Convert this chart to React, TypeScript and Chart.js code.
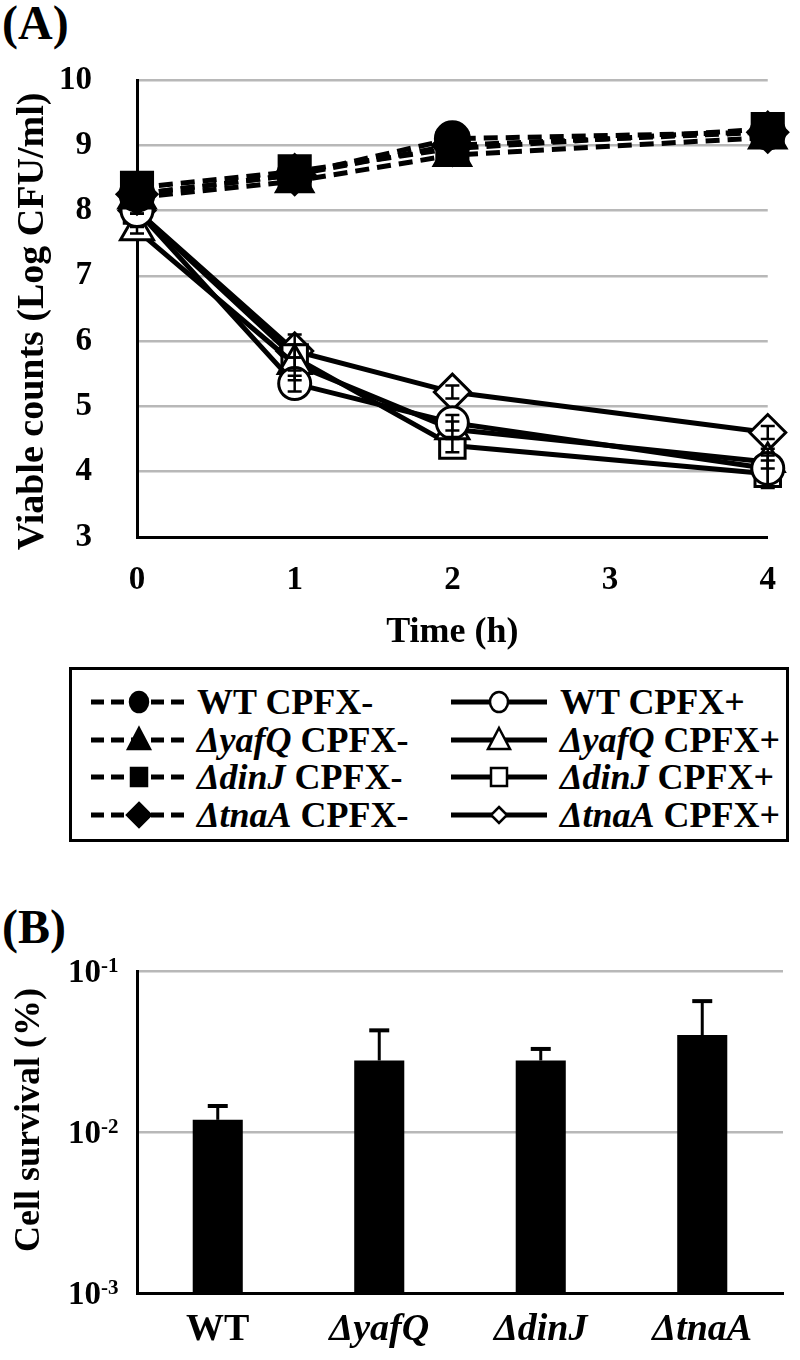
import React, { useEffect, useRef } from 'react';
import { Chart, registerables } from 'chart.js';

Chart.register(...registerables);

const FONT = '"Liberation Serif", "Times New Roman", serif';

// ---------- Panel A data ----------
const timePoints = [0, 1, 2, 4];
const xTicksA = [0, 1, 2, 3, 4];
const strains = ['WT', 'ΔyafQ', 'ΔdinJ', 'ΔtnaA'];
const markerStyles = ['circle', 'triangle', 'rect', 'rectRot'];
const yTitleA = 'Viable counts (Log CFU/ml)';
const xTitleA = 'Time (h)';
const yTitleB = 'Cell survival (%)';

const wtMinus = [8.25, 8.55, 9.1, 9.2];
const yafQMinus = [8.2, 8.45, 8.85, 9.12];
const dinJMinus = [8.35, 8.6, 8.95, 9.25];
const tnaAMinus = [8.25, 8.55, 9.0, 9.2];

const wtPlus = [8.0, 5.35, 4.75, 4.05];
const yafQPlus = [7.7, 5.65, 4.65, 4.15];
const dinJPlus = [8.0, 5.75, 4.4, 3.97];
const tnaAPlus = [8.0, 5.85, 5.22, 4.6];

const wtMinusSD = [0.05, 0.05, 0.05, 0.05];
const yafQMinusSD = [0.05, 0.05, 0.05, 0.05];
const dinJMinusSD = [0.05, 0.05, 0.05, 0.05];
const tnaAMinusSD = [0.05, 0.05, 0.05, 0.05];
const wtPlusSD = [0.05, 0.12, 0.12, 0.3];
const yafQPlusSD = [0.05, 0.1, 0.12, 0.1];
const dinJPlusSD = [0.05, 0.35, 0.1, 0.2];
const tnaAPlusSD = [0.05, 0.1, 0.1, 0.1];

const seriesA = [
  { strain: 0, plus: false, values: wtMinus, sd: wtMinusSD },
  { strain: 1, plus: false, values: yafQMinus, sd: yafQMinusSD },
  { strain: 2, plus: false, values: dinJMinus, sd: dinJMinusSD },
  { strain: 3, plus: false, values: tnaAMinus, sd: tnaAMinusSD },
  { strain: 0, plus: true, values: wtPlus, sd: wtPlusSD },
  { strain: 1, plus: true, values: yafQPlus, sd: yafQPlusSD },
  { strain: 2, plus: true, values: dinJPlus, sd: dinJPlusSD },
  { strain: 3, plus: true, values: tnaAPlus, sd: tnaAPlusSD },
];

// ---------- Panel B data ----------
const survivalMean = [0.0119, 0.0278, 0.0278, 0.04];
const survivalErr = [0.0026, 0.015, 0.005, 0.025];
const survivalTicks = [0.001, 0.01, 0.1];
const survivalTickExp = ['-3', '-2', '-1'];

const radiiFilled: Record<string, number> = { circle: 17, triangle: 21, rect: 22, rectRot: 20 };
const radiiOpen: Record<string, number> = { circle: 16, triangle: 19, rect: 18, rectRot: 18 };

function labelOf(i: number, plus: boolean) {
  return `${strains[i]} CPFX${plus ? '+' : '-'}`;
}

function drawVerticalTitle(ctx: any, text: string, cx: number, cy: number, size: number) {
  ctx.save();
  ctx.translate(cx, cy);
  ctx.rotate(-Math.PI / 2);
  ctx.font = `bold ${size}px ${FONT}`;
  ctx.fillStyle = '#000';
  ctx.textAlign = 'center';
  ctx.textBaseline = 'middle';
  ctx.fillText(text, 0, 0);
  ctx.restore();
}

const errorBarsA = {
  id: 'errorBarsA',
  afterDatasetsDraw(chart: any) {
    const ctx = chart.ctx;
    const xs = chart.scales.x;
    const ys = chart.scales.y;
    ctx.save();
    ctx.strokeStyle = '#000';
    ctx.lineWidth = 2.5;
    seriesA.forEach((s) => {
      s.sd.forEach((sd, j) => {
        if (!sd) return;
        const x = xs.getPixelForValue(timePoints[j]);
        const y1 = ys.getPixelForValue(s.values[j] - sd);
        const y2 = ys.getPixelForValue(s.values[j] + sd);
        ctx.beginPath();
        ctx.moveTo(x, y1);
        ctx.lineTo(x, y2);
        ctx.moveTo(x - 7, y1);
        ctx.lineTo(x + 7, y1);
        ctx.moveTo(x - 7, y2);
        ctx.lineTo(x + 7, y2);
        ctx.stroke();
      });
    });
    ctx.restore();
  },
  afterDraw(chart: any) {
    const ys = chart.scales.y;
    drawVerticalTitle(chart.ctx, yTitleA, 33, (ys.top + ys.bottom) / 2 + 13, 38);
  },
};

const errorBarsB = {
  id: 'errorBarsB',
  afterDatasetsDraw(chart: any) {
    const ctx = chart.ctx;
    const meta = chart.getDatasetMeta(0);
    const ys = chart.scales.y;
    ctx.save();
    ctx.strokeStyle = '#000';
    meta.data.forEach((bar: any, i: number) => {
      const x = bar.x;
      const yTop = ys.getPixelForValue(survivalMean[i]);
      const yErr = ys.getPixelForValue(survivalMean[i] + survivalErr[i]);
      ctx.lineWidth = 3;
      ctx.beginPath();
      ctx.moveTo(x, yTop);
      ctx.lineTo(x, yErr);
      ctx.stroke();
      ctx.lineWidth = 4;
      ctx.beginPath();
      ctx.moveTo(x - 10, yErr);
      ctx.lineTo(x + 10, yErr);
      ctx.stroke();
    });
    ctx.restore();
  },
  afterDraw(chart: any) {
    const ctx = chart.ctx;
    const ys = chart.scales.y;
    ctx.save();
    ctx.fillStyle = '#000';
    survivalTicks.forEach((v, i) => {
      const y = ys.getPixelForValue(v);
      ctx.font = `bold 33px ${FONT}`;
      ctx.textAlign = 'right';
      ctx.textBaseline = 'alphabetic';
      ctx.fillText('10', 101, y + 11);
      ctx.font = `bold 21px ${FONT}`;
      ctx.textAlign = 'left';
      ctx.fillText(survivalTickExp[i], 101, y + 1);
    });
    ctx.restore();
    drawVerticalTitle(ctx, yTitleB, 30, (ys.top + ys.bottom) / 2 - 12, 36);
  },
};

function LegendMarker({ style, filled, small }: { style: string; filled: boolean; small?: boolean }) {
  const cx = 48;
  const cy = 15;
  const fill = filled ? '#000' : '#fff';
  const sw = 2.5;
  if (style === 'circle') return <ellipse cx={cx} cy={cy} rx={9} ry={10} fill={fill} stroke="#000" strokeWidth={sw} />;
  if (style === 'triangle')
    return <polygon points={`${cx},${cy - 12} ${cx + 11},${cy + 9} ${cx - 11},${cy + 9}`} fill={fill} stroke="#000" strokeWidth={sw} />;
  if (style === 'rect') return <rect x={cx - 8} y={cy - 9} width={16} height={18} fill={fill} stroke="#000" strokeWidth={sw} />;
  const r = small ? 8 : 12;
  return <polygon points={`${cx},${cy - r} ${cx + r},${cy} ${cx},${cy + r} ${cx - r},${cy}`} fill={fill} stroke="#000" strokeWidth={sw} />;
}

function LegendSymbol({ style, plus }: { style: string; plus: boolean }) {
  return (
    <svg width={96} height={30} style={{ display: 'block' }}>
      <line x1={0} y1={15} x2={96} y2={15} stroke="#000" strokeWidth={5} strokeDasharray={plus ? undefined : '13 7'} />
      <LegendMarker style={style} filled={!plus} small={plus} />
    </svg>
  );
}

function LegendText({ i, plus }: { i: number; plus: boolean }) {
  const name = strains[i];
  return (
    <span style={{ font: `bold 36px ${FONT}`, whiteSpace: 'nowrap', lineHeight: '38px' }}>
      {i === 0 ? name : <i>{name}</i>} CPFX{plus ? '+' : '-'}
    </span>
  );
}

export default function App() {
  const refA = useRef<HTMLCanvasElement>(null);
  const refB = useRef<HTMLCanvasElement>(null);

  useEffect(() => {
    const tickFont = { family: FONT, size: 33, weight: 'bold' as const };
    const titleFont = { family: FONT, size: 36, weight: 'bold' as const };

    const chartA = new Chart(refA.current!, {
      type: 'line',
      data: {
        datasets: seriesA.map((s) => {
          const ps = markerStyles[s.strain];
          return {
            label: labelOf(s.strain, s.plus),
            data: s.values.map((v, j) => ({ x: timePoints[j], y: v })),
            borderColor: '#000',
            borderWidth: 5,
            borderDash: s.plus ? [] : [14, 8],
            pointStyle: ps as any,
            pointRadius: s.plus ? radiiOpen[ps] : radiiFilled[ps],
            pointBackgroundColor: s.plus ? '#fff' : '#000',
            pointBorderColor: '#000',
            pointBorderWidth: 3,
            tension: 0,
            clip: false as any,
          };
        }),
      },
      options: {
        animation: false,
        responsive: false,
        layout: { padding: { top: 80, right: 32, left: 0, bottom: 0 } },
        plugins: { legend: { display: false }, tooltip: { enabled: false } },
        scales: {
          x: {
            type: 'linear',
            min: 0,
            max: 4,
            afterBuildTicks: (scale: any) => {
              scale.ticks = xTicksA.map((v) => ({ value: v }));
            },
            afterFit: (scale: any) => {
              scale.height = 123;
            },
            grid: { display: false, drawTicks: false },
            border: { display: true, color: '#000', width: 3 },
            ticks: { color: '#000', font: tickFont, padding: 24, maxRotation: 0 },
            title: { display: true, text: xTitleA, color: '#000', font: titleFont, padding: { top: 0, bottom: 6 } },
          },
          y: {
            min: 3,
            max: 10,
            ticks: { stepSize: 1, color: '#000', font: tickFont, padding: 45 },
            afterFit: (scale: any) => {
              scale.width = 137;
            },
            grid: {
              color: (c: any) => (c.tick && c.tick.value === 3 ? 'rgba(0,0,0,0)' : '#b8b8b8'),
              lineWidth: 2.5,
              drawTicks: false,
            },
            border: { display: true, color: '#000', width: 3 },
            title: { display: false },
          },
        },
      },
      plugins: [errorBarsA],
    });

    const chartB = new Chart(refB.current!, {
      type: 'bar',
      data: {
        labels: strains,
        datasets: [
          {
            label: 'Cell survival',
            data: survivalMean,
            backgroundColor: '#000',
            borderWidth: 0,
            barPercentage: 0.31,
            categoryPercentage: 1.0,
          },
        ],
      },
      options: {
        animation: false,
        responsive: false,
        layout: { padding: { top: 91, right: 17, left: 0, bottom: 0 } },
        plugins: { legend: { display: false }, tooltip: { enabled: false } },
        scales: {
          x: {
            type: 'category',
            afterFit: (scale: any) => {
              scale.height = 67;
            },
            grid: { display: false, drawTicks: false },
            border: { display: true, color: '#000', width: 3 },
            ticks: {
              color: '#000',
              padding: 14,
              maxRotation: 0,
              font: (c: any) => ({
                family: FONT,
                size: 38,
                weight: 'bold',
                style: c.index === 0 ? 'normal' : 'italic',
              }),
            } as any,
          },
          y: {
            type: 'logarithmic',
            min: 0.001,
            max: 0.1,
            afterBuildTicks: (scale: any) => {
              scale.ticks = survivalTicks.map((v) => ({ value: v }));
            },
            afterFit: (scale: any) => {
              scale.width = 137;
            },
            ticks: { display: false },
            grid: {
              color: (c: any) => (c.tick && c.tick.value === 0.001 ? 'rgba(0,0,0,0)' : '#b8b8b8'),
              lineWidth: 2.5,
              drawTicks: false,
            },
            border: { display: true, color: '#000', width: 3 },
            title: { display: false },
          },
        },
      },
      plugins: [errorBarsB],
    });

    return () => {
      chartA.destroy();
      chartB.destroy();
    };
  }, []);

  const legendLeft = 69;
  const legendTop = 667;

  return (
    <div
      style={{
        position: 'absolute',
        left: 0,
        top: 0,
        width: 800,
        height: 1360,
        background: '#fff',
        fontFamily: FONT,
        color: '#000',
        overflow: 'hidden',
      }}
    >
      <div style={{ position: 'absolute', left: 2, top: -1, font: `bold 48px ${FONT}`, lineHeight: '48px' }}>(A)</div>
      <canvas ref={refA} width={800} height={660} style={{ position: 'absolute', left: 0, top: 0, display: 'block' }} />

      <div
        style={{
          position: 'absolute',
          left: legendLeft,
          top: legendTop,
          width: 720,
          height: 175,
          border: '3px solid #000',
          boxSizing: 'border-box',
        }}
      >
        {strains.map((_, i) => (
          <React.Fragment key={i}>
            <div style={{ position: 'absolute', left: 19, top: 35 + i * 37.5 - 15 - 3 }}>
              <LegendSymbol style={markerStyles[i]} plus={false} />
            </div>
            <div style={{ position: 'absolute', left: 125, top: 35 + i * 37.5 - 19 - 3 }}>
              <LegendText i={i} plus={false} />
            </div>
            <div style={{ position: 'absolute', left: 379, top: 35 + i * 37.5 - 15 - 3 }}>
              <LegendSymbol style={markerStyles[i]} plus={true} />
            </div>
            <div style={{ position: 'absolute', left: 488, top: 35 + i * 37.5 - 19 - 3 }}>
              <LegendText i={i} plus={true} />
            </div>
          </React.Fragment>
        ))}
      </div>

      <div style={{ position: 'absolute', left: 2, top: 903, font: `bold 48px ${FONT}`, lineHeight: '48px' }}>(B)</div>
      <canvas ref={refB} width={800} height={480} style={{ position: 'absolute', left: 0, top: 880, display: 'block' }} />
    </div>
  );
}
